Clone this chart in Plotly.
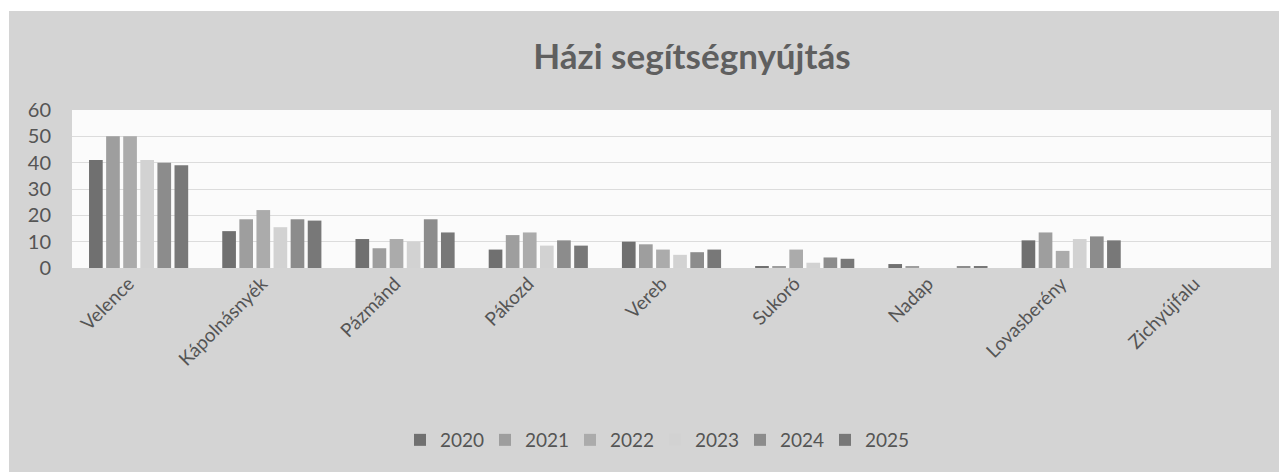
import plotly.graph_objects as go

categories = ["Velence", "Kápolnásnyék", "Pázmánd", "Pákozd", "Vereb",
              "Sukoró", "Nadap", "Lovasberény", "Zichyújfalu"]
years = ["2020", "2021", "2022", "2023", "2024", "2025"]

v2020 = [41, 14, 11, 7, 10, 0.5, 1.5, 10.5, 0]
v2021 = [50, 18.5, 7.5, 12.5, 9, 0.4, 0.5, 13.5, 0]
v2022 = [50, 22, 11, 13.5, 7, 7, 0, 6.5, 0]
v2023 = [41, 15.5, 10, 8.5, 5, 2, 0, 11, 0]
v2024 = [40, 18.5, 18.5, 10.5, 6, 4, 0.5, 12, 0]
v2025 = [39, 18, 13.5, 8.5, 7, 3.5, 0.7, 10.5, 0]

series = [v2020, v2021, v2022, v2023, v2024, v2025]
colors = ["#707070", "#9e9e9e", "#ababab", "#d2d2d2", "#8c8c8c", "#787878"]

# page body adds an 8px margin; figure coordinates = screen - 8
OFF = 8
W, H = 1287 - OFF, 472 - OFF
L, R, T, B = 72 - OFF, 16, 110 - OFF, 204
pw, ph = W - L - R, H - T - B

fig = go.Figure()
for name, vals, c in zip(years, series, colors):
    fig.add_trace(go.Bar(x=categories, y=vals, name=name, marker_color=c,
                         marker_line_width=0))

def px2x(px):
    return (px - OFF - L) / pw

def py2y(py):
    return (H - B - (py - OFF)) / ph

fig.update_layout(
    width=W, height=H,
    margin=dict(l=L, r=R, t=T, b=B),
    paper_bgcolor="white",
    plot_bgcolor="#fbfbfb",
    barmode="group",
    bargap=0.23,
    bargroupgap=0.2,
    font=dict(family="Lato, Carlito, 'Open Sans', sans-serif", color="#595959"),
    title=dict(text="<b>Házi segítségnyújtás</b>", x=(692 - OFF) / W, xref="container",
               xanchor="center", y=1 - (57 - OFF) / H, yref="container", yanchor="middle",
               font=dict(size=35, color="#5f5f5f")),
    showlegend=True,
    legend=dict(orientation="h", x=px2x(655), xanchor="center",
                y=py2y(440), yanchor="middle", bgcolor="rgba(0,0,0,0)",
                font=dict(size=19, color="#555555"),
                entrywidth=40, itemwidth=30),
    shapes=[
        dict(type="rect", xref="paper", yref="paper", layer="below",
             x0=px2x(9), x1=px2x(1300), y0=py2y(480), y1=py2y(11),
             fillcolor="#d4d4d4", line_width=0),
        dict(type="rect", xref="paper", yref="paper", layer="below",
             x0=0, x1=1, y0=0, y1=1, fillcolor="#fbfbfb", line_width=0),
    ],
)
fig.update_yaxes(range=[0, 60], dtick=10, showgrid=True, gridcolor="#dcdcdc",
                 gridwidth=1, zeroline=False, showline=False,
                 tickfont=dict(size=20, color="#555555"),
                 ticklabelstandoff=20)
fig.update_xaxes(tickangle=-45, showline=False, showgrid=False,
                 tickfont=dict(size=19, color="#555555"),
                 ticklabelshift=-10)

fig.write_html("out.html")
